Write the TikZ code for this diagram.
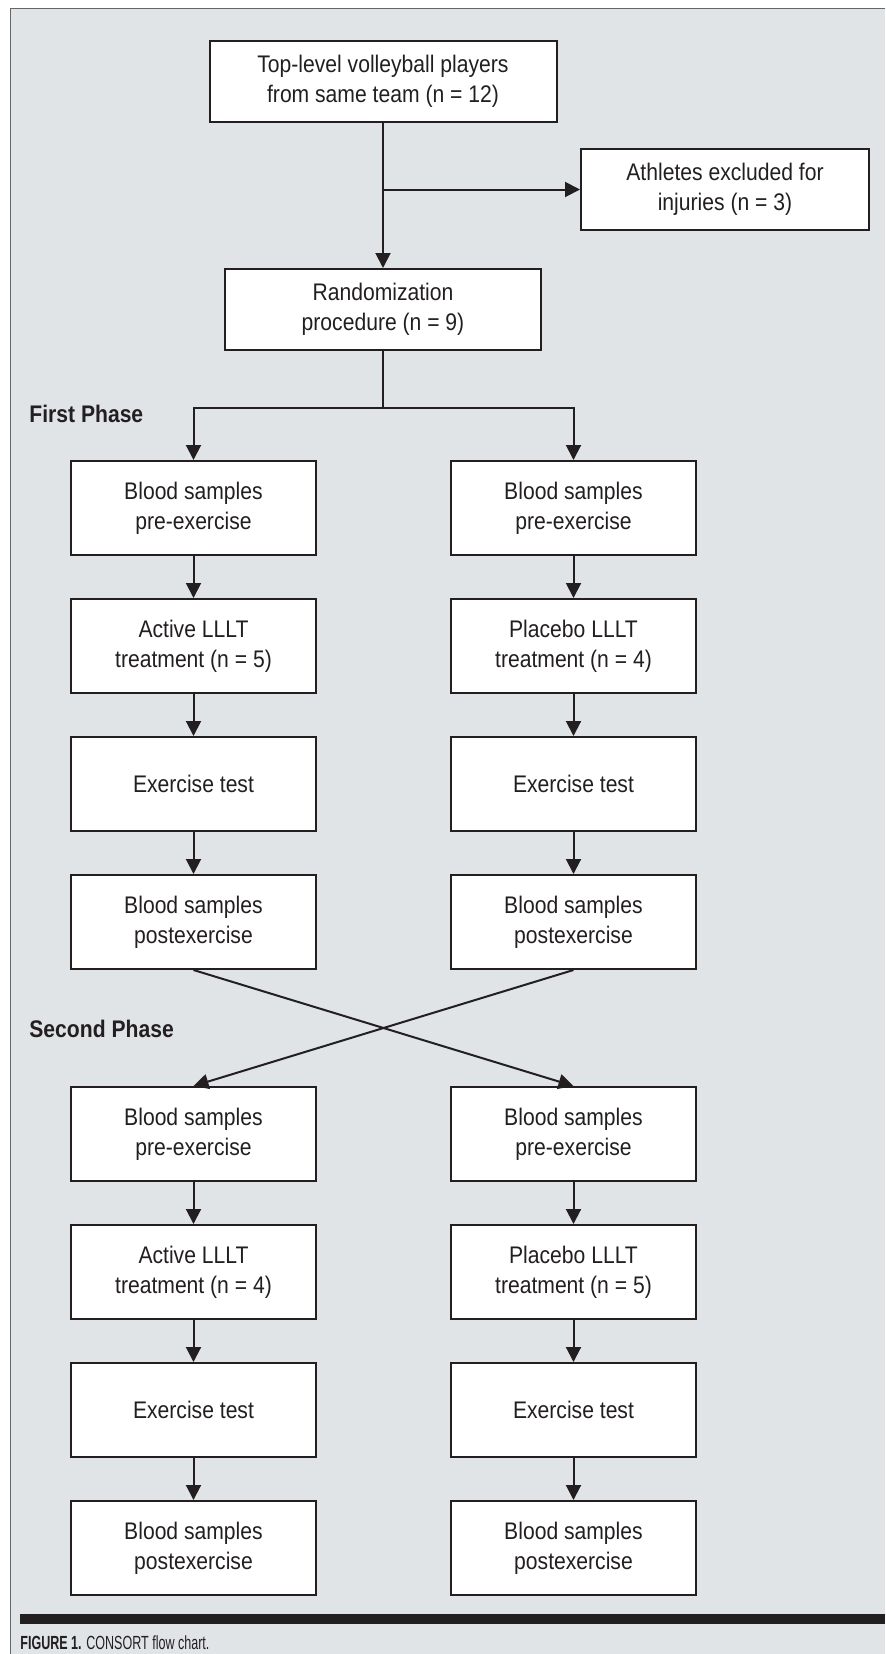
\documentclass[tikz,border=0pt]{standalone}
\usepackage{fontspec}
\setmainfont{Liberation Sans}[FakeStretch=0.88]
\newfontfamily\narrowfont{Liberation Sans}[FakeStretch=0.66]
\usetikzlibrary{positioning,arrows.meta}
\definecolor{panelgray}{RGB}{225,228,231}
\definecolor{inkgray}{RGB}{35,31,32}
\tikzset{
  module/.style={draw=inkgray, fill=white, line width=1pt, align=center, text=inkgray, font=\fontsize{12}{15}\selectfont, inner sep=2pt},
  simple module/.style={module, minimum width=122.5pt, minimum height=47pt},
  top module/.style={module, minimum height=40.5pt},
  phase label/.style={anchor=west, inner sep=0pt, text=inkgray, font=\fontsize{12}{15}\selectfont\bfseries},
  flow line/.style={line width=1pt, draw=inkgray},
  flow arrow/.style={flow line, -{Triangle[length=7.5pt,width=7.5pt]}},
}

\begin{document}
\begin{tikzpicture}
\useasboundingbox (0,0) rectangle (442.5pt,-827pt);
% the panel
\fill[panelgray] (5pt,-4pt) rectangle (442.5pt,-827pt);
\draw[gray!80!black, line width=0.5pt] (442.5pt,-4pt) -- (5pt,-4pt) -- (5pt,-827pt);
\fill[inkgray] (10pt,-807pt) rectangle (442.5pt,-812pt);
\node[anchor=west, inner sep=0pt, text=inkgray, font=\narrowfont\fontsize{9.5}{11}\selectfont] (caption) at (10pt,-821.5pt) {\textbf{FIGURE 1.} CONSORT flow chart.};

% the nodes
\node [top module, minimum width=173.5pt] (players) at (191.5pt,-40.75pt) {Top-level volleyball players\\from same team (n = 12)};
\node [top module, minimum width=144pt] (excluded) at (362.5pt,-94.75pt) {Athletes excluded for\\injuries (n = 3)};
\node [top module, minimum width=158pt, below=72.5pt of players] (random) {Randomization\\procedure (n = 9)};
\coordinate [below=28.5pt of random.south] (split);

\node [phase label] (phaseA) at (14.5pt,-207pt) {First Phase};
\node [simple module] (preAL) at (96.75pt,-254pt) {Blood samples\\pre-exercise};
\node [simple module, right=66.5pt of preAL] (preAR) {Blood samples\\pre-exercise};
\node [simple module, below=21pt of preAL] (laserAL) {Active LLLT\\treatment (n = 5)};
\node [simple module, below=21pt of preAR] (laserAR) {Placebo LLLT\\treatment (n = 4)};
\node [simple module, below=21pt of laserAL] (testAL) {Exercise test};
\node [simple module, below=21pt of laserAR] (testAR) {Exercise test};
\node [simple module, below=21pt of testAL] (postAL) {Blood samples\\postexercise};
\node [simple module, below=21pt of testAR] (postAR) {Blood samples\\postexercise};

\node [phase label] (phaseB) at (14.5pt,-514.5pt) {Second Phase};
\node [simple module, below=58pt of postAL] (preBL) {Blood samples\\pre-exercise};
\node [simple module, below=58pt of postAR] (preBR) {Blood samples\\pre-exercise};
\node [simple module, below=21pt of preBL] (laserBL) {Active LLLT\\treatment (n = 4)};
\node [simple module, below=21pt of preBR] (laserBR) {Placebo LLLT\\treatment (n = 5)};
\node [simple module, below=21pt of laserBL] (testBL) {Exercise test};
\node [simple module, below=21pt of laserBR] (testBR) {Exercise test};
\node [simple module, below=21pt of testBL] (postBL) {Blood samples\\postexercise};
\node [simple module, below=21pt of testBR] (postBR) {Blood samples\\postexercise};

%drawings of vectors
\draw[flow arrow] (players.south) -- (random.north);
\draw[flow arrow] (players.south |- excluded.west) -- (excluded.west);

\draw[flow line] (random.south) -- (split);
\draw[flow arrow] (split) -| (preAL.north);
\draw[flow arrow] (split) -| (preAR.north);

\draw[flow arrow] (preAL.south) -- (laserAL.north);
\draw[flow arrow] (preAR.south) -- (laserAR.north);
\draw[flow arrow] (laserAL.south) -- (testAL.north);
\draw[flow arrow] (laserAR.south) -- (testAR.north);
\draw[flow arrow] (testAL.south) -- (postAL.north);
\draw[flow arrow] (testAR.south) -- (postAR.north);

\draw[flow arrow] (postAL.south) -- (preBR.north);
\draw[flow arrow] (postAR.south) -- (preBL.north);

\draw[flow arrow] (preBL.south) -- (laserBL.north);
\draw[flow arrow] (preBR.south) -- (laserBR.north);
\draw[flow arrow] (laserBL.south) -- (testBL.north);
\draw[flow arrow] (laserBR.south) -- (testBR.north);
\draw[flow arrow] (testBL.south) -- (postBL.north);
\draw[flow arrow] (testBR.south) -- (postBR.north);

\end{tikzpicture}
\end{document}
